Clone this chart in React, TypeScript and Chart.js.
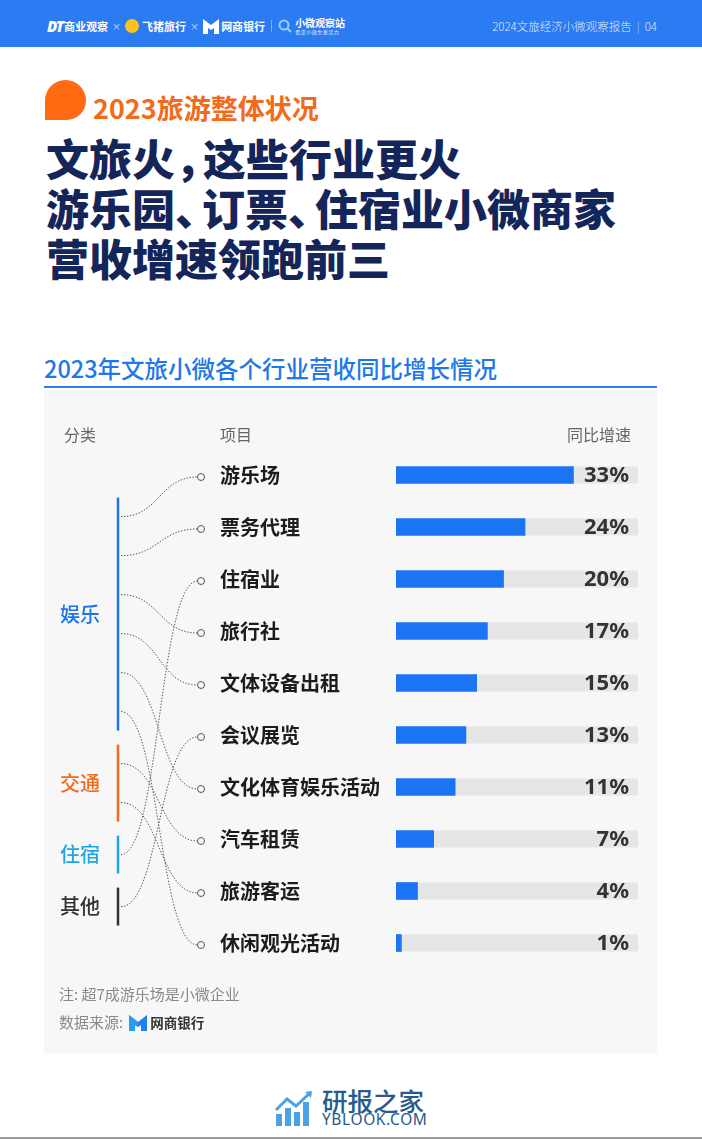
import React, { useEffect, useRef } from "react";
import { Chart, registerables } from "chart.js";

Chart.register(...registerables);

// ---------- data ----------
const items = [
  "游乐场",
  "票务代理",
  "住宿业",
  "旅行社",
  "文体设备出租",
  "会议展览",
  "文化体育娱乐活动",
  "汽车租赁",
  "旅游客运",
  "休闲观光活动",
];
const growth = [33, 24, 20, 17, 15, 13, 11, 7, 4, 1];
const categories = ["娱乐", "交通", "住宿", "其他"];
const categoryColors = ["#1F74E8", "#F26A1E", "#1BA9E2", "#333333"];
// index into categories for each item
const itemCategory = [0, 0, 2, 0, 0, 3, 0, 1, 1, 0];
const axisMax = 45;
const headers = ["分类", "项目", "同比增速"];

const CJK = '"Noto Sans CJK SC", "Noto Sans", sans-serif';

const overlayPlugin = {
  id: "overlay",
  beforeDatasetsDraw(chart: any) {
    const { ctx, scales } = chart;
    const x = scales.x;
    const meta = chart.getDatasetMeta(0);
    const x0 = x.getPixelForValue(0);
    const x1 = x.getPixelForValue(axisMax);
    ctx.save();
    ctx.fillStyle = "#E6E6E6";
    meta.data.forEach((bar: any) => {
      const h = bar.height;
      ctx.fillRect(x0, bar.y - h / 2, x1 - x0, h);
    });
    ctx.restore();
  },
  afterDraw(chart: any) {
    const { ctx, chartArea, scales } = chart;
    const y = scales.y;
    const meta = chart.getDatasetMeta(0);
    ctx.save();

    // column headers
    ctx.font = `16px ${CJK}`;
    ctx.fillStyle = "#666";
    ctx.textBaseline = "middle";
    const hy = chartArea.top - 14;
    ctx.textAlign = "left";
    ctx.fillText(headers[0], 20, hy);
    ctx.fillText(headers[1], 176, hy);
    ctx.textAlign = "right";
    ctx.fillText(headers[2], chartArea.right - 7, hy);

    // percentage labels
    ctx.font = `bold 22px "Noto Sans", sans-serif`;
    ctx.fillStyle = "#333";
    ctx.textAlign = "right";
    meta.data.forEach((bar: any, i: number) => {
      ctx.fillText(growth[i] + "%", chartArea.right - 9, bar.y + 1);
    });

    // connectors
    const ys = items.map((_, i) => y.getPixelForValue(i));
    const step = ys[1] - ys[0];
    let pos = ys[0] + 0.8 * step;
    const barX = 74;
    const startX = 77;
    const circX = 157;
    const r = 3.5;
    categories.forEach((cat, c) => {
      const members = items.map((_, i) => i).filter((i) => itemCategory[i] === c);
      const anchors: number[] = [];
      members.forEach((m, k) => {
        if (k > 0) pos += 0.75 * step;
        anchors.push(pos);
      });
      const top = anchors[0] - 0.365 * step;
      const bottom = anchors[anchors.length - 1] + 0.365 * step;
      // category bar
      ctx.fillStyle = categoryColors[c];
      ctx.fillRect(barX - 1.25, top, 2.5, bottom - top);
      // category label
      ctx.font = `500 20px ${CJK}`;
      ctx.textAlign = "left";
      ctx.textBaseline = "middle";
      ctx.fillText(cat, 16, (top + bottom) / 2);
      // curves
      members.forEach((m, k) => {
        const a = anchors[k];
        const b = ys[m] + 2;
        const ex = circX - r;
        const mid = (startX + ex) / 2;
        ctx.beginPath();
        ctx.setLineDash([1.4, 1.6]);
        ctx.lineWidth = 1;
        ctx.strokeStyle = "#555";
        ctx.moveTo(startX, a);
        ctx.bezierCurveTo(mid, a, mid, b, ex, b);
        ctx.stroke();
      });
      pos += step;
    });
    // circles
    ctx.setLineDash([]);
    items.forEach((_, i) => {
      ctx.beginPath();
      ctx.arc(circX, ys[i] + 2, r, 0, Math.PI * 2);
      ctx.fillStyle = "#F7F7F7";
      ctx.fill();
      ctx.lineWidth = 1;
      ctx.strokeStyle = "#555";
      ctx.stroke();
    });
    ctx.restore();
  },
};

const Punct = ({ ch, w }: { ch: string; w: number }) => (
  <span style={{ display: "inline-block", width: w, overflow: "visible" }}>{ch}</span>
);

export default function App() {
  const ref = useRef<HTMLCanvasElement>(null);

  useEffect(() => {
    document.body.style.margin = "0";
    const chart = new Chart(ref.current!, {
      type: "bar",
      data: {
        labels: items,
        datasets: [
          {
            data: growth,
            backgroundColor: "#1B74F3",
            barThickness: 17,
            borderWidth: 0,
          },
        ],
      },
      options: {
        indexAxis: "y",
        responsive: false,
        animation: false,
        devicePixelRatio: 1,
        layout: { padding: { left: 176, right: 19, top: 59, bottom: 85 } },
        plugins: { legend: { display: false }, tooltip: { enabled: false } },
        scales: {
          x: { min: 0, max: axisMax, display: false },
          y: {
            grid: { display: false },
            border: { display: false },
            afterFit: (s: any) => {
              s.width = 176;
            },
            ticks: {
              autoSkip: false,
              crossAlign: "far",
              color: "#1c1c1c",
              font: { family: CJK, size: 20, weight: "bold" },
            },
          },
        },
      },
      plugins: [overlayPlugin],
    } as any);
    return () => chart.destroy();
  }, []);

  const abs = (s: React.CSSProperties): React.CSSProperties => ({ position: "absolute", ...s });

  return (
    <div
      style={{
        position: "absolute",
        left: 0,
        top: 0,
        width: 702,
        height: 1139,
        background: "#fff",
        overflow: "hidden",
        fontFamily: CJK,
      }}
    >
      {/* header bar */}
      <div style={abs({ left: 0, top: 0, width: 702, height: 47, background: "#2B7BF3" })} />
      <div style={abs({ left: 47, top: 17, height: 18, color: "#fff", display: "flex", alignItems: "center", whiteSpace: "nowrap" })}>
        <span style={{ fontStyle: "italic", fontWeight: 900, fontSize: 15, fontFamily: '"Noto Sans", sans-serif', letterSpacing: -1 }}>DT</span>
        <span style={{ fontWeight: 700, fontSize: 11, marginLeft: 1 }}>商业观察</span>
        <span style={{ fontSize: 9, opacity: 0.8, margin: "0 4px" }}>×</span>
        <span style={{ width: 14, height: 14, borderRadius: 7, background: "#FFC21A", display: "inline-block" }} />
        <span style={{ fontWeight: 700, fontSize: 11, marginLeft: 3 }}>飞猪旅行</span>
        <span style={{ fontSize: 9, opacity: 0.8, margin: "0 4px" }}>×</span>
        <svg width="16" height="15" viewBox="0 0 16 15">
          <path d="M0 0 L8 6 L16 0 L16 15 L11 15 L11 9 L8 11 L5 9 L5 15 L0 15 Z" fill="#fff" />
        </svg>
        <span style={{ fontWeight: 700, fontSize: 11, marginLeft: 2 }}>网商银行</span>
        <span style={{ width: 1, height: 12, background: "rgba(255,255,255,0.4)", margin: "0 6px" }} />
        <svg width="14" height="14" viewBox="0 0 14 14">
          <circle cx="6" cy="6" r="4.5" stroke="#8FD3FF" strokeWidth="2" fill="none" />
          <path d="M9 9 L13 13" stroke="#8FD3FF" strokeWidth="2" />
        </svg>
        <span style={{ display: "inline-flex", flexDirection: "column", marginLeft: 3, lineHeight: 1 }}>
          <span style={{ fontWeight: 700, fontSize: 10 }}>小微观察站</span>
          <span style={{ fontSize: 5, opacity: 0.85, marginTop: 1, letterSpacing: 0.5 }}>看见小微生意活力</span>
        </span>
      </div>
      <div style={abs({ right: 45, top: 18, fontSize: 11.5, lineHeight: "16px", color: "rgba(255,255,255,0.88)", fontWeight: 300, whiteSpace: "nowrap" })}>
        2024文旅经济小微观察报告<span style={{ margin: "0 5px", opacity: 0.7 }}>|</span>04
      </div>

      {/* section tag */}
      <div style={abs({ left: 45, top: 80, width: 41, height: 40, background: "#FF6A13", borderRadius: "21px 21px 20px 0" })} />
      <div style={abs({ left: 93, top: 94, fontSize: 27, lineHeight: "28px", fontWeight: 700, color: "#F26A1B", whiteSpace: "nowrap" })}>
        2023旅游整体状况
      </div>

      {/* title */}
      <div style={abs({ left: 46, top: 132, fontSize: 43, lineHeight: "50px", fontWeight: 900, color: "#14255A", whiteSpace: "nowrap" })}>
        <div>
          文旅火<Punct ch="，" w={28} />这些行业更火
        </div>
        <div>
          游乐园<Punct ch="、" w={27} />订票<Punct ch="、" w={27} />住宿业小微商家
        </div>
        <div>营收增速领跑前三</div>
      </div>

      {/* chart title */}
      <div style={abs({ left: 44, top: 355, fontSize: 23.5, lineHeight: "26px", fontWeight: 500, color: "#1E78E8", whiteSpace: "nowrap" })}>
        2023年文旅小微各个行业营收同比增长情况
      </div>
      <div style={abs({ left: 44, top: 386, width: 613, height: 2, background: "#2E7CF2" })} />

      {/* panel */}
      <div style={abs({ left: 44, top: 390, width: 613, height: 664, background: "#F7F7F7" })} />
      <canvas ref={ref} width={613} height={664} style={abs({ left: 44, top: 390, width: 613, height: 664 })} />

      {/* notes */}
      <div style={abs({ left: 59, top: 984, fontSize: 15, lineHeight: "20px", color: "#8A8A8A", whiteSpace: "nowrap" })}>
        注: 超7成游乐场是小微企业
      </div>
      <div style={abs({ left: 59, top: 1012, height: 20, fontSize: 15, lineHeight: "20px", color: "#8A8A8A", whiteSpace: "nowrap", display: "flex", alignItems: "center" })}>
        <span>数据来源:</span>
        <svg width="18" height="17" viewBox="0 0 18 17" style={{ marginLeft: 6 }}>
          <path d="M0 1 L9 8 L18 1 L18 17 L12 17 L12 11 L9 13 L6 11 L6 17 L0 17 Z" fill="#1E80F0" />
          <path d="M0 1 L9 8 L9 13 L6 11 L6 17 L0 17 Z" fill="#2A9BF6" />
        </svg>
        <span style={{ fontWeight: 700, fontSize: 13.5, color: "#333", marginLeft: 3 }}>网商银行</span>
      </div>

      {/* watermark */}
      <svg width="40" height="36" viewBox="0 0 40 36" style={abs({ left: 275, top: 1090 })}>
        <rect x="1" y="24" width="6" height="12" fill="#4AA3E6" />
        <rect x="10" y="18" width="6" height="18" fill="#4AA3E6" />
        <rect x="19" y="22" width="6" height="14" fill="#4AA3E6" />
        <rect x="28" y="12" width="6" height="24" fill="#4AA3E6" />
        <path d="M1 20 L12 9 L21 16 L35 3" stroke="#4AA3E6" strokeWidth="3" fill="none" />
        <path d="M30 2 L37 1 L36 8 Z" fill="#4AA3E6" />
      </svg>
      <div style={abs({ left: 322, top: 1086, fontSize: 25.5, lineHeight: "28px", color: "#285A8C", fontWeight: 500, whiteSpace: "nowrap" })}>
        研报之家
      </div>
      <div style={abs({ left: 322, top: 1110, fontSize: 15.5, lineHeight: "18px", color: "#285A8C", fontFamily: '"Noto Sans", sans-serif', letterSpacing: 0.6, whiteSpace: "nowrap" })}>
        YBLOOK.COM
      </div>
      <div style={abs({ left: 0, top: 1137, width: 702, height: 2, background: "#9A9A9A" })} />
    </div>
  );
}
